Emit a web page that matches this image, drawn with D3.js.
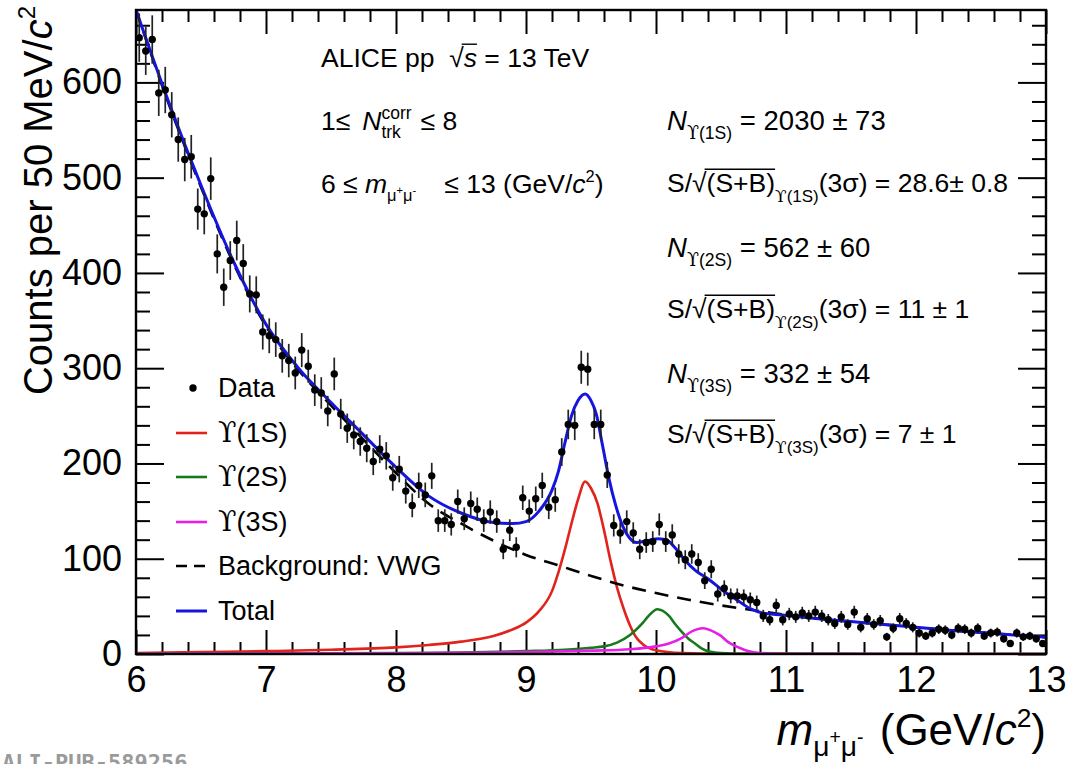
<!DOCTYPE html>
<html><head><meta charset="utf-8">
<script src="https://cdn.jsdelivr.net/npm/d3@7"></script>
<style>body{margin:0;background:#fff} svg{display:block} text{white-space:pre}</style>
</head><body><svg id="c" width="1068" height="764"></svg>
<script>
// ---------- data ----------
const binLow = 6.0, binWidth = 0.05;   // 50 MeV bins, 6 - 13 GeV/c2
const counts = [
 647,633,645,589,592,566,540,519,522,467,
 462,499,420,385,413,434,410,378,377,338,
 334,330,313,308,295,319,302,277,274,255,
 294,252,237,230,223,216,202,215,208,185,
 194,171,156,177,167,187,140,140,136,160,
 142,158,152,140,149,139,110,130,112,164,
 150,163,177,154,162,212,241,240,301,299,
 241,241,188,135,127,139,127,110,117,118,
 136,118,125,105,99,105,96,77,89,63,
 69,61,61,60,57,54,40,36,51,36,
 42,39,43,40,44,40,36,32,39,31,
 44,28,37,31,35,18,27,37,32,28,
 22,19,22,26,25,20,27,26,22,27,
 19,22,23,16,11,22,18,19,16,11
];

const bkgMass   = [6.0,6.25,6.5,6.75,7.0,7.25,7.5,7.75,8.0,8.25,8.5,8.75,9.0,9.25,9.5,9.75,10.0,10.25,10.5,10.75,11.0,11.25,11.5,11.75,12.0,12.25,12.5,12.75,13.0];
const bkgCounts = [676,578,490,410,344,298,261,225,190,158,137,119,104,93,82,72,64,57,51,46,41,37,34,31,28,25,22.5,20,17.5];

const totMass   = [6.0,6.25,6.5,6.75,7.0,7.25,7.5,7.75,8.0,8.25,8.5,8.75,8.9,9.0,9.1,9.2,9.25,9.3,9.35,9.4,9.455,9.5,9.54,9.59,9.64,9.69,9.745,9.795,9.85,9.93,10.02,10.09,10.15,10.22,10.3,10.41,10.51,10.62,10.72,10.82,10.97,11.25,11.5,11.75,12.0,12.25,12.5,12.75,13.0];
const totCounts = [676,580,492,412,346,300,264,230,196,166,148,138,137,139,150,172,192,222,250,266,273,266,252,218,183,156,134,122,117,119,121,119,111,99,88,78,67,57,48,43,41,37,34,31,28,25,22.5,20,17.5];

const ups1Mass   = [6.0,6.5,7.0,7.5,8.0,8.25,8.5,8.75,8.9,9.0,9.1,9.2,9.25,9.3,9.35,9.4,9.455,9.5,9.55,9.6,9.65,9.7,9.75,9.8,9.85,9.9,10.0,10.2,10.5,13.0];
const ups1Counts = [1,2,3,4.5,7,9.5,13,19,26,33,45,66,86,110,137,162,181,174,158,130,98,70,48,30,17,10,4,1,0.2,0];

const ups2Mass   = [6.0,8.0,8.5,9.0,9.3,9.5,9.6,9.7,9.8,9.9,9.95,10.01,10.1,10.15,10.2,10.25,10.3,10.35,10.4,10.5,10.7,13.0];
const ups2Counts = [0.3,1,1.5,3,4.5,6.5,8,12,20,33,41,47,40,31,23,16,11,6,3,1,0.1,0];

const ups3Mass   = [6.0,8.0,8.5,9.0,9.5,9.8,10.0,10.1,10.2,10.28,10.36,10.45,10.5,10.55,10.6,10.65,10.7,10.8,11.0,13.0];
const ups3Counts = [0.2,0.8,1.2,2,3.5,5,8,11,17,24,27,23,19,13,9,6,3.5,1,0.2,0];

const xTickValues = [6,7,8,9,10,11,12,13];
const yTickValues = [0,100,200,300,400,500,600];

// ---------- setup ----------
const svg = d3.select("#c");
const FONT = "'Liberation Sans', Arial, Helvetica, sans-serif";
const SERIF = "'DejaVu Serif', 'Liberation Serif', serif";
const x = d3.scaleLinear().domain([6,13]).range([136,1046]);
const y = d3.scaleLinear().domain([0,676]).range([654,10]);
const [X0,X1] = x.range(), [Y0,Y1] = y.range();

svg.append("rect").attr("width",1068).attr("height",764).attr("fill","#fff");
svg.append("clipPath").attr("id","frame").append("rect")
  .attr("x",X0).attr("y",Y1).attr("width",X1-X0).attr("height",Y0-Y1);

// ---------- axes ----------
const minorX = d3.range(6,13.0001,0.2).filter(v=>Math.abs(v-Math.round(v))>1e-6);
const minorY = d3.range(0,676,20).filter(v=>v%100!==0);

function styleAxis(g){
  g.select(".domain").remove();
  g.selectAll("line").attr("stroke","#000").attr("stroke-width",2);
  g.selectAll("text").attr("font-family",FONT).attr("font-size",36).attr("fill","#000");
}
svg.append("g").attr("transform",`translate(0,${Y0})`)
  .call(d3.axisBottom(x).tickValues(xTickValues).tickSize(-24).tickPadding(12).tickFormat(d3.format("d"))).call(styleAxis);
svg.append("g").attr("transform",`translate(0,${Y0})`)
  .call(d3.axisBottom(x).tickValues(minorX).tickSize(-12).tickFormat("")).call(styleAxis);
svg.append("g").attr("transform",`translate(0,${Y1})`)
  .call(d3.axisTop(x).tickValues(xTickValues).tickSize(-24).tickFormat("")).call(styleAxis);
svg.append("g").attr("transform",`translate(0,${Y1})`)
  .call(d3.axisTop(x).tickValues(minorX).tickSize(-12).tickFormat("")).call(styleAxis);
svg.append("g").attr("transform",`translate(${X0},0)`)
  .call(d3.axisLeft(y).tickValues(yTickValues).tickSize(-28).tickPadding(14).tickFormat(d3.format("d"))).call(styleAxis);
svg.append("g").attr("transform",`translate(${X0},0)`)
  .call(d3.axisLeft(y).tickValues(minorY).tickSize(-14).tickFormat("")).call(styleAxis);
svg.append("g").attr("transform",`translate(${X1},0)`)
  .call(d3.axisRight(y).tickValues(yTickValues).tickSize(-28).tickFormat("")).call(styleAxis);
svg.append("g").attr("transform",`translate(${X1},0)`)
  .call(d3.axisRight(y).tickValues(minorY).tickSize(-14).tickFormat("")).call(styleAxis);

// ---------- curves ----------
const plot = svg.append("g").attr("clip-path","url(#frame)");
function curve(ms, vs, color, width, dash){
  const pts = ms.map((m,i)=>[m,vs[i]]);
  plot.append("path").datum(pts)
    .attr("d", d3.line().x(d=>x(d[0])).y(d=>y(d[1])).curve(d3.curveMonotoneX))
    .attr("fill","none").attr("stroke",color).attr("stroke-width",width)
    .attr("stroke-dasharray",dash||null);
}
const C_RED="#e0231c", C_GREEN="#16791a", C_MAG="#e61ee6", C_BLUE="#1515e0";
curve(ups1Mass, ups1Counts, C_RED, 2.6);
curve(ups2Mass, ups2Counts, C_GREEN, 2.6);
curve(ups3Mass, ups3Counts, C_MAG, 2.6);
curve(bkgMass, bkgCounts, "#000", 2.6, "14,9");
curve(totMass, totCounts, C_BLUE, 3);

// ---------- data points ----------
const bins = counts.map((c,i)=>({m: binLow + binWidth*(i+0.5), c}));
const pg = plot.append("g");
pg.selectAll("line.err").data(bins).join("line")
  .attr("x1",d=>x(d.m)).attr("x2",d=>x(d.m))
  .attr("y1",d=>y(d.c+Math.sqrt(d.c))).attr("y2",d=>y(Math.max(0,d.c-Math.sqrt(d.c))))
  .attr("stroke","#222").attr("stroke-width",1.7);
pg.selectAll("circle").data(bins).join("circle")
  .attr("cx",d=>x(d.m)).attr("cy",d=>y(d.c)).attr("r",3.7).attr("fill","#000");

svg.append("rect").attr("x",X0).attr("y",Y1).attr("width",X1-X0).attr("height",Y0-Y1)
  .attr("fill","none").attr("stroke","#000").attr("stroke-width",2.4);

// ---------- rich text helper ----------
function measure(t, size, italic, font){
  const el = svg.append("text").attr("font-family",font||FONT).attr("font-size",size)
     .attr("font-style",italic?"italic":"normal").style("white-space","pre").text(t);
  const w = el.node().getComputedTextLength(); el.remove(); return w;
}
function rich(parent, x0, y0, size, segs, anchor){
  let cx = 0, prevStart = 0, prevEnd = 0;
  const items = [];
  segs.forEach(s=>{
    const sz = size*(s.s||1);
    const w = measure(s.t, sz, s.it, s.font);
    const start = s.back ? prevStart : cx + (s.gap||0);
    items.push({s, sz, w, start});
    if (s.back){ cx = Math.max(prevEnd, start+w); }
    else { prevStart = start; prevEnd = start+w; cx = start+w; }
  });
  const total = cx;
  const off = anchor==="end" ? -total : anchor==="middle" ? -total/2 : 0;
  const g = parent.append("g");
  items.forEach(it=>{
    const yy = y0 + (it.s.dy||0)*size;
    g.append("text").attr("x",x0+off+it.start).attr("y",yy)
      .attr("font-family",it.s.font||FONT).attr("font-size",it.sz)
      .attr("font-style",it.s.it?"italic":"normal").attr("fill","#000")
      .style("white-space","pre").text(it.s.t);
    if (it.s.ol){
      const ly = y0 - size*0.86;
      g.append("line").attr("x1",x0+off+it.start-2).attr("x2",x0+off+it.start+it.w)
        .attr("y1",ly).attr("y2",ly).attr("stroke","#000").attr("stroke-width",1.4);
    }
  });
  return g;
}
const UPS = "ϒ";
function upsSeg(state, s, dy){
  return [{t:UPS, s:s, dy:dy, font:SERIF}, {t:"("+state+")", s:s, dy:dy}];
}

// ---------- annotations ----------
const AS = 26.5;
rich(svg, 321, 67, AS, [{t:"ALICE pp  "},{t:"√"},{t:"s",it:true,ol:true},{t:" = 13 TeV"}]);
rich(svg, 321, 130, AS, [{t:"1≤"},{t:"N",it:true,gap:12},{t:"corr",s:0.66,dy:-0.42},{t:"trk",s:0.66,dy:0.3,back:true},{t:"≤ 8",gap:9}]);
rich(svg, 321, 193, AS, [{t:"6 ≤ "},{t:"m",it:true},{t:"μ",s:0.62,dy:0.32},{t:"+",s:0.42,dy:0.02},{t:"μ",s:0.62,dy:0.32},{t:"-",s:0.42,dy:0.02},{t:"   ≤ 13 (GeV/",gap:6},{t:"c",it:true},{t:"2",s:0.62,dy:-0.42},{t:")"}]);

const RX = 667;
function nLine(yb, state, val){
  rich(svg, RX, yb, 27.5, [{t:"N",it:true}, ...upsSeg(state,0.64,0.32), {t:" = "+val}]);
}
function sLine(yb, state, val){
  rich(svg, RX, yb, 26.5, [{t:"S/√"},{t:"(S+B)",ol:true}, ...upsSeg(state,0.64,0.38), {t:"(3σ) = "+val}]);
}
nLine(130,"1S","2030 ± 73");
sLine(192,"1S","28.6± 0.8");
nLine(257,"2S","562 ± 60");
sLine(318,"2S","11 ± 1");
nLine(383,"3S","332 ± 54");
sLine(443,"3S","7 ± 1");

// ---------- legend ----------
const legend = [
  {label:[{t:"Data"}], kind:"dot"},
  {label:upsSeg("1S",1,0), kind:"line", color:C_RED},
  {label:upsSeg("2S",1,0), kind:"line", color:C_GREEN},
  {label:upsSeg("3S",1,0), kind:"line", color:C_MAG},
  {label:[{t:"Background: VWG"}], kind:"dash", color:"#000"},
  {label:[{t:"Total"}], kind:"line", color:C_BLUE}
];
const LB = [397,442,486,531,575,620];
legend.forEach((e,i)=>{
  const yb = LB[i], ym = yb-9;
  if (e.kind==="dot") svg.append("circle").attr("cx",193).attr("cy",ym).attr("r",3.7).attr("fill","#000");
  else svg.append("line").attr("x1",176).attr("x2",207).attr("y1",ym).attr("y2",ym)
        .attr("stroke",e.color).attr("stroke-width",e.color===C_BLUE?3:2.6)
        .attr("stroke-dasharray",e.kind==="dash"?"11,7":null);
  rich(svg, 218, yb, 27, e.label);
});

// ---------- axis titles ----------
rich(svg, 1046, 745, 44, [{t:"m",it:true},{t:"μ",s:0.64,dy:0.26},{t:"+",s:0.44,dy:-0.02},{t:"μ",s:0.64,dy:0.26},{t:"-",s:0.44,dy:-0.02},{t:" (GeV/",gap:4},{t:"c",it:true},{t:"2",s:0.6,dy:-0.42},{t:")"}], "end");
const yt = svg.append("g").attr("transform","translate(52,6) rotate(-90)");
rich(yt, 0, 0, 40, [{t:"Counts per 50 MeV/"},{t:"c",it:true},{t:"2",s:0.6,dy:-0.42}], "end");

// ---------- publication id ----------
svg.append("text").attr("x",2).attr("y",770).attr("font-family","'DejaVu Sans Mono', monospace")
  .attr("font-weight","bold").attr("font-size",22).attr("fill","#9a9a9a").text("ALI-PUB-589256");
</script></body></html>
